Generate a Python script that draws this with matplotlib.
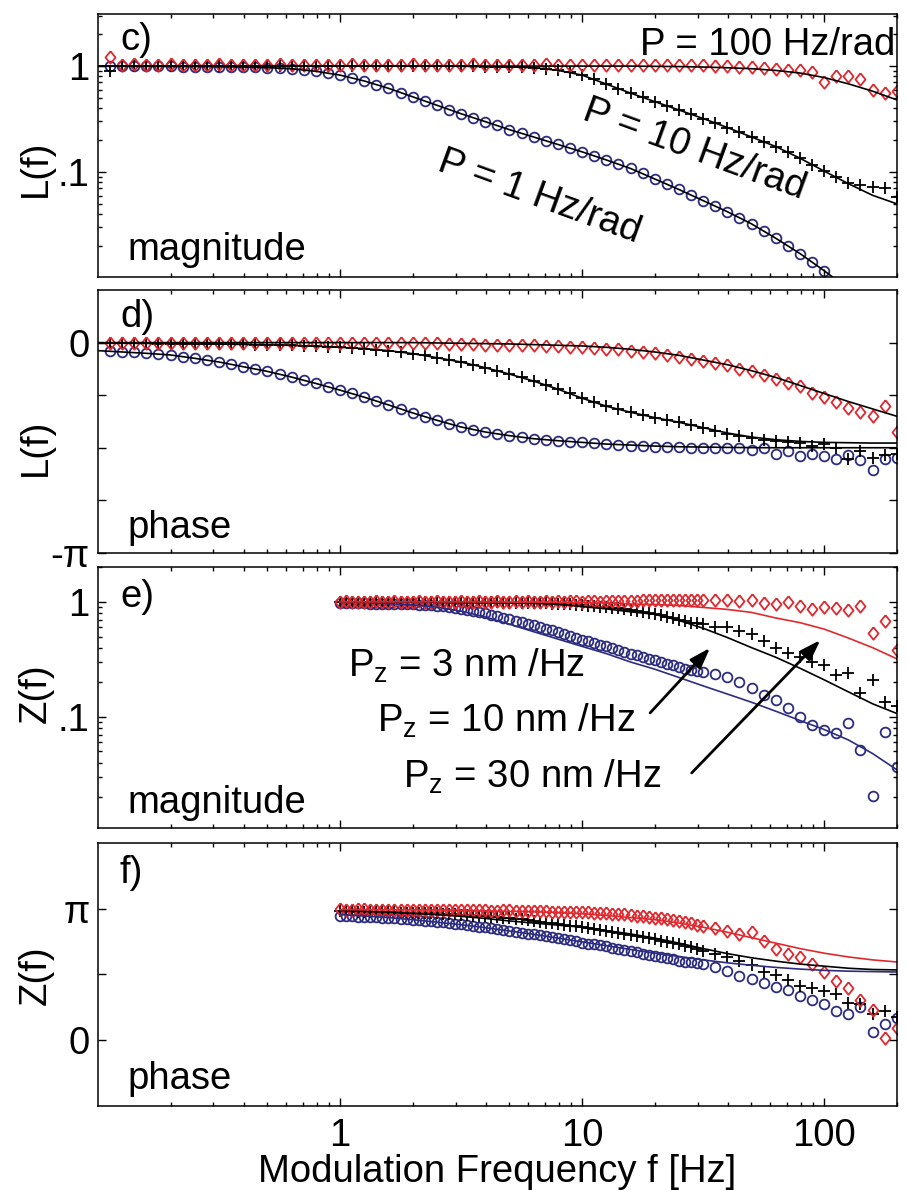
import numpy as np
import matplotlib
matplotlib.use('Agg')
import matplotlib.pyplot as plt
from matplotlib.ticker import FixedLocator, LogLocator, NullFormatter

plt.rcParams['font.family'] = ['Liberation Sans', 'DejaVu Sans']
plt.rcParams['mathtext.fontset'] = 'custom'
plt.rcParams['mathtext.rm'] = 'Liberation Sans'
plt.rcParams['mathtext.it'] = 'Liberation Sans:italic'
plt.rcParams['font.size'] = 27.5

red = '#e0282e'
navy = '#2c2c80'

# log-spaced frequency sweeps: measured points and fitted curves
f_L = np.logspace(-0.95, 2.3, 66)
f_Z = np.concatenate([np.logspace(0.0, 1.5, 61), np.logspace(1.55, 2.3, 16)])
fit_L = np.logspace(-1.0, 2.3, 34)
fit_Z = np.logspace(0.0, 2.3, 24)

# ---- c) L(f) magnitude ----
Lmag_1 = [0.995, 0.995, 0.995, 0.993, 0.993, 0.993, 0.991, 0.991, 0.989, 0.986,
          0.984, 0.982, 0.975, 0.966, 0.957, 0.944, 0.920, 0.891, 0.859, 0.822,
          0.776, 0.724, 0.668, 0.617, 0.562, 0.513, 0.468, 0.427, 0.389, 0.355,
          0.324, 0.299, 0.275, 0.251, 0.232, 0.214, 0.197, 0.182, 0.168, 0.155,
          0.142, 0.130, 0.119, 0.108, 0.0977, 0.0851, 0.0767, 0.0684, 0.0603, 0.0537,
          0.0479, 0.0422, 0.0372, 0.0324, 0.0279, 0.0237, 0.0202, 0.0170, 0.0141, 0.0117,
          np.nan, np.nan, np.nan, np.nan, np.nan, np.nan]
Lmag_10 = [0.89, 1.0, 1.0, 1.0, 1.0, 1.0, 1.0, 1.0, 1.0, 1.0,
           1.0, 1.0, 1.0, 1.0, 1.0, 1.0, 1.0, 1.0, 1.0, 1.0,
           1.0, 1.0, 1.0, 1.0, 1.0, 1.0, 1.0, 1.0, 0.998, 0.995,
           0.993, 0.991, 0.986, 0.982, 0.975, 0.966, 0.944, 0.912, 0.871, 0.822,
           0.750, 0.676, 0.610, 0.556, 0.507, 0.462, 0.422, 0.385, 0.351, 0.320,
           0.292, 0.263, 0.237, 0.214, 0.193, 0.174, 0.155, 0.135, 0.117, 0.102,
           0.0891, 0.0794, 0.0759, 0.0724, 0.0708, 0.0575]
Lmag_100 = [1.22, 1.03, 1.04, 1.03, 1.03, 1.04, 1.03, 1.02, 1.03, 1.04,
            1.03, 1.03, 1.02, 1.03, 1.04, 1.03, 1.03, 1.02, 1.03, 1.03,
            1.04, 1.03, 1.02, 1.03, 1.03, 1.04, 1.03, 1.03, 1.02, 1.03,
            1.04, 1.03, 1.03, 1.02, 1.03, 1.03, 1.04, 1.03, 1.02, 1.03,
            1.03, 1.03, 1.02, 1.03, 1.03, 1.02, 1.03, 1.02, 1.02, 1.02,
            1.01, 1.00, 0.99, 0.98, 0.96, 0.94, 0.92, 0.91, 0.88, 0.70,
            0.80, 0.81, 0.76, 0.59, 0.56, 0.58]
Lmag_fit_1 = [0.996, 0.995, 0.993, 0.992, 0.990, 0.986, 0.980, 0.967, 0.944, 0.893,
              0.822, 0.724, 0.617, 0.513, 0.427, 0.355, 0.299, 0.251, 0.214, 0.182,
              0.155, 0.130, 0.108, 0.0860, 0.0684, 0.0537, 0.0422, 0.0324, 0.0237, 0.0170,
              0.0117, 0.0079, 0.0052, 0.0034]
Lmag_fit_10 = [1.0, 1.0, 1.0, 1.0, 1.0, 1.0, 1.0, 1.0, 1.0, 1.0,
               1.0, 1.0, 1.0, 1.0, 1.0, 0.995, 0.991, 0.982, 0.966, 0.912,
               0.822, 0.676, 0.556, 0.462, 0.385, 0.320, 0.263, 0.214, 0.174, 0.135,
               0.102, 0.0776, 0.0603, 0.0501]
Lmag_fit_100 = [1.0, 1.0, 1.0, 1.0, 1.0, 1.0, 1.0, 1.0, 1.0, 1.0,
                1.0, 1.0, 1.0, 1.0, 1.0, 1.0, 1.0, 1.0, 1.0, 1.0,
                1.0, 1.0, 1.0, 0.995, 0.99, 0.98, 0.965, 0.945, 0.91, 0.86,
                0.78, 0.68, 0.58, 0.48]

# ---- d) L(f) phase [rad] ----
Lph_1 = [-0.13, -0.14, -0.145, -0.16, -0.17, -0.185, -0.21, -0.235, -0.26, -0.29,
         -0.325, -0.36, -0.395, -0.43, -0.47, -0.515, -0.56, -0.61, -0.66, -0.71,
         -0.76, -0.815, -0.87, -0.93, -0.99, -1.05, -1.105, -1.16, -1.21, -1.26,
         -1.30, -1.335, -1.365, -1.39, -1.415, -1.435, -1.45, -1.465, -1.48, -1.49,
         -1.505, -1.52, -1.53, -1.54, -1.55, -1.555, -1.56, -1.565, -1.57, -1.57,
         -1.575, -1.58, -1.575, -1.60, -1.57, -1.66, -1.62, -1.70, -1.66, -1.69,
         -1.74, -1.68, -1.75, -1.90, -1.74, -1.73]
Lph_10 = [-0.01, -0.01, -0.01, -0.01, -0.015, -0.015, -0.015, -0.02, -0.02, -0.02,
          -0.025, -0.025, -0.03, -0.03, -0.035, -0.04, -0.045, -0.05, -0.06, -0.07,
          -0.08, -0.09, -0.105, -0.12, -0.14, -0.165, -0.19, -0.225, -0.255, -0.29,
          -0.33, -0.375, -0.42, -0.47, -0.52, -0.575, -0.63, -0.695, -0.76, -0.83,
          -0.89, -0.95, -0.99, -1.04, -1.08, -1.12, -1.155, -1.19, -1.23, -1.27,
          -1.32, -1.36, -1.40, -1.43, -1.45, -1.47, -1.49, -1.50, -1.54, -1.52,
          -1.58, -1.74, -1.62, -1.72, -1.68, -1.66]
Lph_100 = [0.0, 0.0, 0.0, 0.0, 0.0, 0.0, 0.0, 0.0, 0.0, 0.0,
           0.0, 0.0, 0.0, 0.0, 0.0, 0.0, 0.0, 0.0, 0.0, 0.0,
           0.0, 0.0, 0.0, 0.0, 0.0, 0.0, -0.01, -0.01, -0.02, -0.02,
           -0.02, -0.03, -0.03, -0.03, -0.04, -0.04, -0.05, -0.05, -0.06, -0.07,
           -0.08, -0.09, -0.10, -0.12, -0.14, -0.16, -0.19, -0.22, -0.25, -0.27,
           -0.30, -0.34, -0.39, -0.43, -0.49, -0.55, -0.60, -0.65, -0.75, -0.81,
           -0.88, -0.97, -1.03, -1.10, -0.95, -1.33]
Lph_fit_1 = [-0.12, -0.14, -0.16, -0.185, -0.235, -0.29, -0.36, -0.43, -0.515, -0.61,
             -0.71, -0.815, -0.93, -1.05, -1.16, -1.26, -1.335, -1.39, -1.435, -1.465,
             -1.49, -1.515, -1.53, -1.545, -1.555, -1.56, -1.565, -1.568, -1.57, -1.57,
             -1.57, -1.57, -1.57, -1.57]
Lph_fit_10 = [-0.01, -0.01, -0.012, -0.015, -0.02, -0.022, -0.027, -0.033, -0.042, -0.053,
              -0.07, -0.09, -0.12, -0.165, -0.225, -0.29, -0.375, -0.47, -0.575, -0.695,
              -0.83, -0.95, -1.04, -1.12, -1.19, -1.27, -1.35, -1.41, -1.45, -1.475,
              -1.49, -1.495, -1.50, -1.50]
Lph_fit_100 = [0.0, 0.0, 0.0, 0.0, 0.0, 0.0, 0.0, 0.0, 0.0, 0.0,
               0.0, 0.0, 0.0, 0.0, -0.005, -0.01, -0.015, -0.02, -0.03, -0.04,
               -0.05, -0.07, -0.10, -0.14, -0.19, -0.26, -0.33, -0.42, -0.52, -0.64,
               -0.76, -0.88, -0.99, -1.10]

# ---- e) Z(f) magnitude ----
Zmag_3 = [0.98, 0.978, 0.975, 0.972, 0.97, 0.968, 0.965, 0.962, 0.96, 0.958,
          0.955, 0.952, 0.95, 0.945, 0.94, 0.933, 0.925, 0.918, 0.91, 0.89,
          0.87, 0.85, 0.83, 0.812, 0.795, 0.772, 0.75, 0.73, 0.71, 0.687,
          0.665, 0.645, 0.625, 0.605, 0.585, 0.567, 0.55, 0.53, 0.51, 0.49,
          0.47, 0.455, 0.44, 0.425, 0.41, 0.395, 0.38, 0.367, 0.355, 0.342,
          0.33, 0.32, 0.31, 0.30, 0.29, 0.28, 0.27, 0.262, 0.255, 0.25,
          0.245,
          0.235, 0.22, 0.20, 0.18, 0.155, 0.14, 0.12, 0.10, 0.085, 0.0775,
          0.072, 0.088, 0.052, 0.0203, 0.074, 0.037]
Zmag_10 = [1.0, 1.0, 1.0, 1.0, 1.0, 1.0, 1.0, 1.0, 1.0, 1.0,
           1.0, 1.0, 1.0, 1.0, 1.0, 1.0, 1.0, 1.0, 1.0, 1.0,
           1.0, 0.997, 0.995, 0.993, 0.99, 0.99, 0.99, 0.987, 0.985, 0.982,
           0.98, 0.977, 0.975, 0.972, 0.97, 0.965, 0.96, 0.955, 0.95, 0.942,
           0.935, 0.925, 0.915, 0.905, 0.895, 0.887, 0.88, 0.865, 0.85, 0.835,
           0.82, 0.805, 0.79, 0.767, 0.745, 0.722, 0.70, 0.68, 0.66, 0.65,
           0.64,
           0.61, 0.60, 0.56, 0.53, 0.46, 0.40, 0.36, 0.33, 0.30, 0.28,
           0.23, 0.24, 0.16, 0.21, 0.135, 0.125]
Zmag_30 = [1.0, 1.01, 1.0, 1.0, 0.99, 1.0, 1.01, 1.0, 1.0, 1.01,
           1.0, 0.99, 1.0, 1.01, 1.0, 1.0, 1.01, 1.0, 0.99, 1.0,
           1.01, 1.0, 1.0, 1.01, 1.0, 1.0, 1.01, 1.0, 1.0, 1.01,
           1.0, 1.01, 1.0, 1.0, 1.01, 1.0, 1.01, 1.0, 1.01, 1.01,
           1.0, 1.01, 1.01, 1.0, 1.01, 1.02, 1.01, 1.02, 1.02, 1.02,
           1.03, 1.03, 1.03, 1.03, 1.04, 1.03, 1.03, 1.04, 1.03, 1.03,
           1.04,
           1.04, 1.03, 1.02, 1.03, 0.97, 0.95, 1.0, 0.93, 0.86, 0.90,
           0.89, 0.85, 0.93, 0.54, 0.68, 0.38]
Zmag_fit_3 = [0.99, 0.985, 0.966, 0.94, 0.90, 0.83, 0.74, 0.64, 0.55, 0.475,
              0.41, 0.355, 0.30, 0.26, 0.22, 0.186, 0.158, 0.134, 0.112, 0.093,
              0.0776, 0.063, 0.048, 0.0347]
Zmag_fit_10 = [1.0, 1.0, 0.998, 0.995, 0.99, 0.985, 0.98, 0.977, 0.97, 0.955,
               0.91, 0.87, 0.82, 0.78, 0.69, 0.59, 0.49, 0.40, 0.33, 0.265,
               0.21, 0.165, 0.13, 0.107]
Zmag_fit_30 = [1.0, 1.0, 1.0, 1.0, 1.0, 0.999, 0.998, 0.997, 0.995, 0.99,
               0.985, 0.975, 0.96, 0.95, 0.93, 0.895, 0.86, 0.81, 0.725, 0.66,
               0.58, 0.485, 0.40, 0.32]

# ---- f) Z(f) phase [rad] ----
Zph_3 = [2.97, 2.965, 2.96, 2.955, 2.95, 2.945, 2.94, 2.93, 2.92, 2.91,
         2.90, 2.89, 2.88, 2.87, 2.86, 2.845, 2.83, 2.815, 2.80, 2.785,
         2.77, 2.75, 2.73, 2.715, 2.70, 2.68, 2.66, 2.635, 2.61, 2.59,
         2.57, 2.55, 2.53, 2.51, 2.49, 2.465, 2.44, 2.415, 2.39, 2.36,
         2.33, 2.31, 2.29, 2.265, 2.24, 2.215, 2.19, 2.16, 2.13, 2.10,
         2.07, 2.045, 2.02, 1.995, 1.97, 1.935, 1.90, 1.88, 1.86, 1.835,
         1.81,
         1.76, 1.65, 1.54, 1.47, 1.36, 1.28, 1.20, 1.05, 0.96, 0.86,
         0.70, 0.62, 0.80, 0.20, 0.38, 0.52]
Zph_10 = [3.08, 3.08, 3.08, 3.075, 3.07, 3.07, 3.07, 3.065, 3.06, 3.055,
          3.05, 3.05, 3.05, 3.045, 3.04, 3.035, 3.03, 3.025, 3.02, 3.01,
          3.00, 2.99, 2.98, 2.97, 2.96, 2.95, 2.94, 2.93, 2.92, 2.905,
          2.89, 2.87, 2.85, 2.83, 2.81, 2.795, 2.78, 2.76, 2.74, 2.72,
          2.70, 2.68, 2.66, 2.64, 2.62, 2.595, 2.57, 2.545, 2.52, 2.495,
          2.47, 2.44, 2.41, 2.38, 2.35, 2.32, 2.29, 2.255, 2.22, 2.175,
          2.13,
          2.05, 1.98, 1.90, 1.79, 1.64, 1.56, 1.45, 1.29, 1.24, 1.17,
          1.10, 0.90, 0.86, 0.62, 0.70, 0.55]
Zph_30 = [3.13, 3.12, 3.12, 3.13, 3.13, 3.12, 3.12, 3.12, 3.12, 3.11,
          3.11, 3.12, 3.12, 3.11, 3.11, 3.11, 3.11, 3.10, 3.10, 3.11,
          3.11, 3.10, 3.10, 3.10, 3.10, 3.09, 3.09, 3.10, 3.10, 3.09,
          3.09, 3.085, 3.08, 3.08, 3.08, 3.075, 3.07, 3.07, 3.07, 3.065,
          3.06, 3.055, 3.05, 3.04, 3.03, 3.025, 3.02, 3.005, 2.99, 2.975,
          2.96, 2.945, 2.93, 2.91, 2.89, 2.865, 2.84, 2.815, 2.79, 2.76,
          2.73,
          2.67, 2.61, 2.55, 2.58, 2.36, 2.17, 2.05, 1.99, 1.82, 1.62,
          1.41, 1.24, 0.95, 0.72, 0.05, 0.30]
Zph_fit_3 = [3.0, 2.97, 2.93, 2.88, 2.82, 2.76, 2.69, 2.61, 2.53, 2.44,
             2.35, 2.26, 2.17, 2.08, 2.0, 1.92, 1.85, 1.79, 1.74, 1.70,
             1.67, 1.65, 1.64, 1.63]
Zph_fit_10 = [3.1, 3.08, 3.06, 3.03, 3.0, 2.96, 2.91, 2.85, 2.80, 2.75,
              2.70, 2.62, 2.54, 2.44, 2.32, 2.19, 2.07, 1.97, 1.89, 1.82,
              1.77, 1.72, 1.69, 1.68]
Zph_fit_30 = [3.12, 3.12, 3.12, 3.115, 3.11, 3.10, 3.09, 3.08, 3.07, 3.05,
              3.02, 2.98, 2.93, 2.88, 2.80, 2.70, 2.58, 2.45, 2.32, 2.19,
              2.08, 1.99, 1.92, 1.87]

diamond = [(0, 1), (0.8, 0), (0, -1), (-0.8, 0), (0, 1)]
mk_red = dict(ls='none', marker=diamond, ms=9, mfc='none', mec=red, mew=1.3)
mk_plus = dict(ls='none', marker='+', ms=8, mec='k', mew=1.3)
mk_blue = dict(ls='none', marker='o', ms=7, mfc='none', mec=navy, mew=1.3)
lw = 1.2

fig = plt.figure(figsize=(9.07, 11.9), dpi=100)
ax_c = fig.add_axes([0.108, 0.7672, 0.881, 0.2210])
ax_d = fig.add_axes([0.108, 0.5353, 0.881, 0.2210])
ax_e = fig.add_axes([0.108, 0.3042, 0.881, 0.2193])
ax_f = fig.add_axes([0.108, 0.0706, 0.881, 0.2210])

for ax in (ax_c, ax_d, ax_e, ax_f):
    ax.set_xscale('log')
    ax.set_xlim(0.1, 200)
    ax.xaxis.set_major_locator(FixedLocator([1, 10, 100]))
    ax.xaxis.set_minor_locator(LogLocator(base=10, subs=np.arange(2, 10)))
    ax.xaxis.set_minor_formatter(NullFormatter())
    ax.tick_params(which='both', direction='in', top=True, right=True, width=1)
    ax.tick_params(which='major', length=6, pad=6)
    ax.tick_params(which='minor', length=3)
    for s in ax.spines.values():
        s.set_linewidth(1.1)
    if ax is not ax_f:
        ax.tick_params(labelbottom=False)

# c)
ax_c.plot(f_L, Lmag_1, **mk_blue)
ax_c.plot(f_L, Lmag_10, **mk_plus)
ax_c.plot(f_L, Lmag_100, **mk_red)
ax_c.plot(fit_L, Lmag_fit_1, 'k-', lw=lw)
ax_c.plot(fit_L, Lmag_fit_10, 'k-', lw=lw)
ax_c.plot(fit_L, Lmag_fit_100, 'k-', lw=lw)
ax_c.set_yscale('log')
ax_c.set_ylim(0.0102, 3.1)
ax_c.set_yticks([0.1, 1])
ax_c.set_yticklabels(['.1', '1'])
ax_c.yaxis.set_minor_locator(LogLocator(base=10, subs=np.arange(2, 10)))
ax_c.yaxis.set_minor_formatter(NullFormatter())
ax_c.set_ylabel('L(f)')
ax_c.yaxis.set_label_coords(-0.055, 0.414)
ax_c.text(0.0275, 0.863, 'c)', transform=ax_c.transAxes)
ax_c.text(0.0375, 0.065, 'magnitude', transform=ax_c.transAxes)
ax_c.text(0.9975, 0.844, 'P = 100 Hz/rad', ha='right', transform=ax_c.transAxes)
ax_c.text(0.747, 0.483, 'P = 10 Hz/rad', rotation=-20, ha='center', va='center',
          rotation_mode='anchor', transform=ax_c.transAxes)
ax_c.text(0.553, 0.304, 'P = 1 Hz/rad', rotation=-20, ha='center', va='center',
          rotation_mode='anchor', transform=ax_c.transAxes)

# d)
ax_d.plot(f_L, Lph_1, **mk_blue)
ax_d.plot(f_L, Lph_10, **mk_plus)
ax_d.plot(f_L, Lph_100, **mk_red)
ax_d.plot(fit_L, Lph_fit_1, 'k-', lw=lw)
ax_d.plot(fit_L, Lph_fit_10, 'k-', lw=lw)
ax_d.plot(fit_L, Lph_fit_100, 'k-', lw=lw)
ax_d.set_ylim(-np.pi, np.pi / 4)
ax_d.set_yticks([-np.pi, -3 * np.pi / 4, -np.pi / 2, -np.pi / 4, 0])
ax_d.set_yticklabels(['-π', '', '', '', '0'])
ax_d.set_ylabel('L(f)')
ax_d.yaxis.set_label_coords(-0.055, 0.403)
ax_d.text(0.0275, 0.86, 'd)', transform=ax_d.transAxes)
ax_d.text(0.0375, 0.057, 'phase', transform=ax_d.transAxes)

# e)
ax_e.plot(f_Z, Zmag_3, **mk_blue)
ax_e.plot(f_Z, Zmag_10, **mk_plus)
ax_e.plot(f_Z, Zmag_30, **mk_red)
ax_e.plot(fit_Z, Zmag_fit_3, '-', color=navy, lw=lw)
ax_e.plot(fit_Z, Zmag_fit_10, 'k-', lw=lw)
ax_e.plot(fit_Z, Zmag_fit_30, '-', color=red, lw=lw)
ax_e.set_yscale('log')
ax_e.set_ylim(0.0108, 2.01)
ax_e.set_yticks([0.1, 1])
ax_e.set_yticklabels(['.1', '1'])
ax_e.yaxis.set_minor_locator(LogLocator(base=10, subs=np.arange(2, 10)))
ax_e.yaxis.set_minor_formatter(NullFormatter())
ax_e.set_ylabel('Z(f)')
ax_e.yaxis.set_label_coords(-0.055, 0.515)
ax_e.text(0.0275, 0.848, 'e)', transform=ax_e.transAxes)
ax_e.text(0.0375, 0.057, 'magnitude', transform=ax_e.transAxes)
ax_e.text(0.313, 0.579, r'$\mathrm{P_z}$ = 3 nm /Hz', transform=ax_e.transAxes)
ax_e.text(0.349, 0.368, r'$\mathrm{P_z}$ = 10 nm /Hz', transform=ax_e.transAxes)
ax_e.text(0.382, 0.153, r'$\mathrm{P_z}$ = 30 nm /Hz', transform=ax_e.transAxes)
arrow = dict(arrowstyle='-|>,head_length=0.5,head_width=0.17', mutation_scale=25,
             color='k', lw=2, shrinkA=0, shrinkB=0)
ax_e.annotate('', xy=(0.766, 0.690), xytext=(0.691, 0.441),
              xycoords='axes fraction', textcoords='axes fraction', arrowprops=arrow)
ax_e.annotate('', xy=(0.904, 0.720), xytext=(0.743, 0.211),
              xycoords='axes fraction', textcoords='axes fraction', arrowprops=arrow)

# f)
ax_f.plot(f_Z, Zph_3, **mk_blue)
ax_f.plot(f_Z, Zph_10, **mk_plus)
ax_f.plot(f_Z, Zph_30, **mk_red)
ax_f.plot(fit_Z, Zph_fit_3, '-', color=navy, lw=lw)
ax_f.plot(fit_Z, Zph_fit_10, 'k-', lw=lw)
ax_f.plot(fit_Z, Zph_fit_30, '-', color=red, lw=lw)
ax_f.set_ylim(-np.pi / 2, 3 * np.pi / 2)
ax_f.set_yticks([0, np.pi / 2, np.pi])
ax_f.set_yticklabels(['0', '', 'π'])
ax_f.set_ylabel('Z(f)')
ax_f.yaxis.set_label_coords(-0.055, 0.498)
ax_f.text(0.0275, 0.848, 'f)', transform=ax_f.transAxes)
ax_f.text(0.0375, 0.065, 'phase', transform=ax_f.transAxes)
ax_f.set_xticklabels(['1', '10', '100'])
ax_f.tick_params(axis='x', which='major', pad=9)
ax_f.set_xlabel('Modulation Frequency f [Hz]', labelpad=0)

fig.savefig('out.png', dpi=100)
